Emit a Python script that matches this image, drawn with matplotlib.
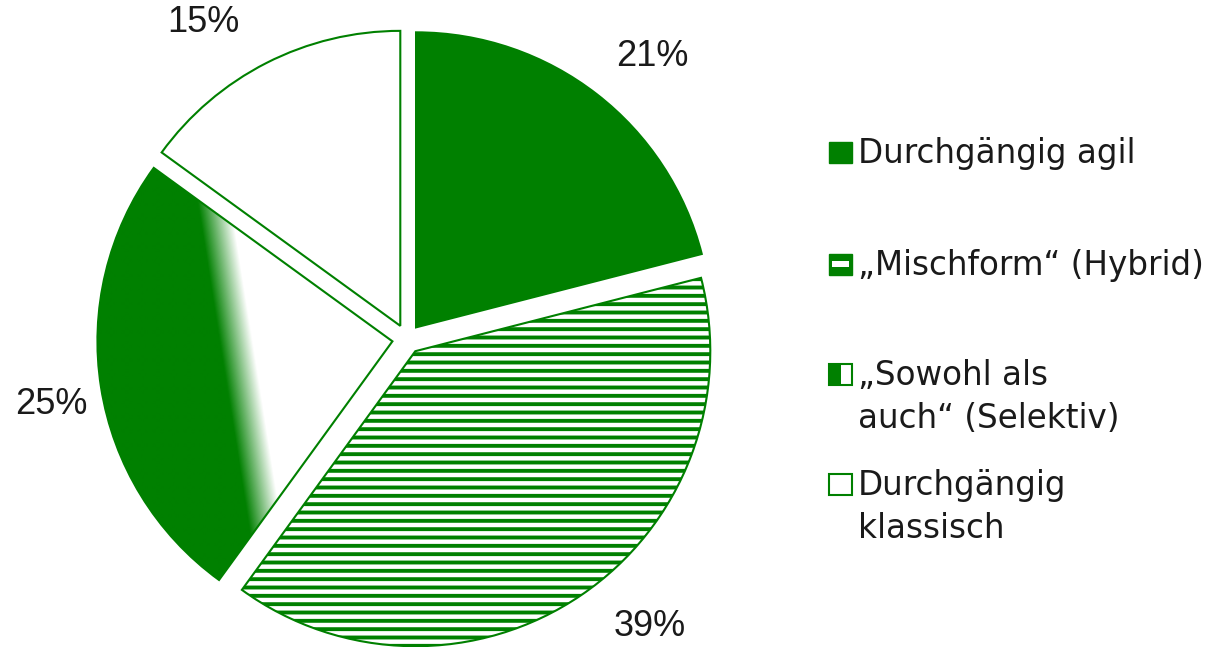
import matplotlib
matplotlib.use('Agg')
import matplotlib.pyplot as plt
import numpy as np
from matplotlib.patches import Rectangle

# Data
labels = ['Durchgängig agil', '„Mischform“ (Hybrid)',
          '„Sowohl als\nauch“ (Selektiv)', 'Durchgängig\nklassisch']
values = [21, 39, 25, 15]

green = '#008000'
text_color = '#1a1a1a'
plt.rcParams['font.family'] = ['Liberation Sans', 'DejaVu Sans']
plt.rcParams['hatch.linewidth'] = 2.8
plt.rcParams['hatch.color'] = green

W, H = 1222, 647
R = 295.0          # pie radius in px
cx, cy = 407, 308  # pie centre in px (from lower left)

fig = plt.figure(figsize=(W / 100, H / 100), dpi=100)
ax = fig.add_axes([0, 0, 1, 1])

wedges, texts, autotexts = ax.pie(
    values, startangle=90, counterclock=False, explode=[0.05] * len(values),
    autopct=lambda p: f'{p:.0f}%', pctdistance=1.22,
    wedgeprops=dict(edgecolor=green, linewidth=1.5),
    textprops=dict(fontsize=26, color=text_color))

# "outside end" style label placement: small angle shift + distance per label
label_shift = [-3.2, 6.0, 1.5, 5.8]
label_dist = [1.27, 1.277, 1.227, 1.275]
for w, at, ds, dd in zip(wedges, autotexts, label_shift, label_dist):
    a = np.deg2rad((w.theta1 + w.theta2) / 2 + ds)
    at.set_position((dd * np.cos(a), dd * np.sin(a)))

# slice styles
wedges[0].set_facecolor(green)
wedges[1].set_facecolor('white')
wedges[1].set_hatch('--')
wedges[2].set_facecolor('white')
wedges[3].set_facecolor('white')

# gradient fill for the third slice (green outside -> white towards centre)
w = wedges[2]
tm = np.deg2rad((w.theta1 + w.theta2) / 2)
c0, c1 = w.center
gx = np.linspace(c0 - 1.05, c0 + 1.05, 600)
gy = np.linspace(c1 - 1.05, c1 + 1.05, 600)
X, Y = np.meshgrid(gx, gy)
t = (X - c0) * np.cos(tm) + (Y - c1) * np.sin(tm)
alpha = np.clip((t - 0.47) / (0.58 - 0.47), 0, 1)
img = np.zeros((600, 600, 4))
img[..., 1] = 128 / 255
img[..., 3] = alpha
im = ax.imshow(img, extent=(gx[0], gx[-1], gy[0], gy[-1]), origin='lower',
               interpolation='bilinear', zorder=w.get_zorder() + 0.5)
im.set_clip_path(w)

ax.set_xlim(-cx / R, (W - cx) / R)
ax.set_ylim(-cy / R, (H - cy) / R)
ax.set_aspect('equal')
ax.axis('off')

# Legend drawn by hand (pixel coordinates, y downwards)
lax = fig.add_axes([0, 0, 1, 1])
lax.set_xlim(0, W)
lax.set_ylim(H, 0)
lax.axis('off')

baselines = [163, 275, 385, 495]
line_gap = 43
mx, mw, mh = 829, 23, 20.5

for i, (lab, yb) in enumerate(zip(labels, baselines)):
    for j, line in enumerate(lab.split('\n')):
        lax.text(858, yb + j * line_gap, line, fontsize=23.5, color=text_color,
                 va='baseline', ha='left', family=['DejaVu Sans'])
    top = yb - 21
    if i == 0:
        lax.add_patch(Rectangle((mx, top), mw, mh, facecolor=green, edgecolor=green, lw=1))
    elif i == 1:
        lax.add_patch(Rectangle((mx, top), mw, mh, facecolor=green, edgecolor=green, lw=1))
        lax.add_patch(Rectangle((mx + 3, top + mh / 2 - 3), mw - 6, 6, facecolor='white', lw=0))
    elif i == 2:
        lax.add_patch(Rectangle((mx, top), mw, mh, facecolor='white', edgecolor=green, lw=1.5))
        lax.add_patch(Rectangle((mx, top), mw / 2, mh, facecolor=green, lw=0))
    else:
        lax.add_patch(Rectangle((mx, top), mw, mh, facecolor='white', edgecolor=green, lw=1.5))

fig.savefig('out.png', dpi=100)
